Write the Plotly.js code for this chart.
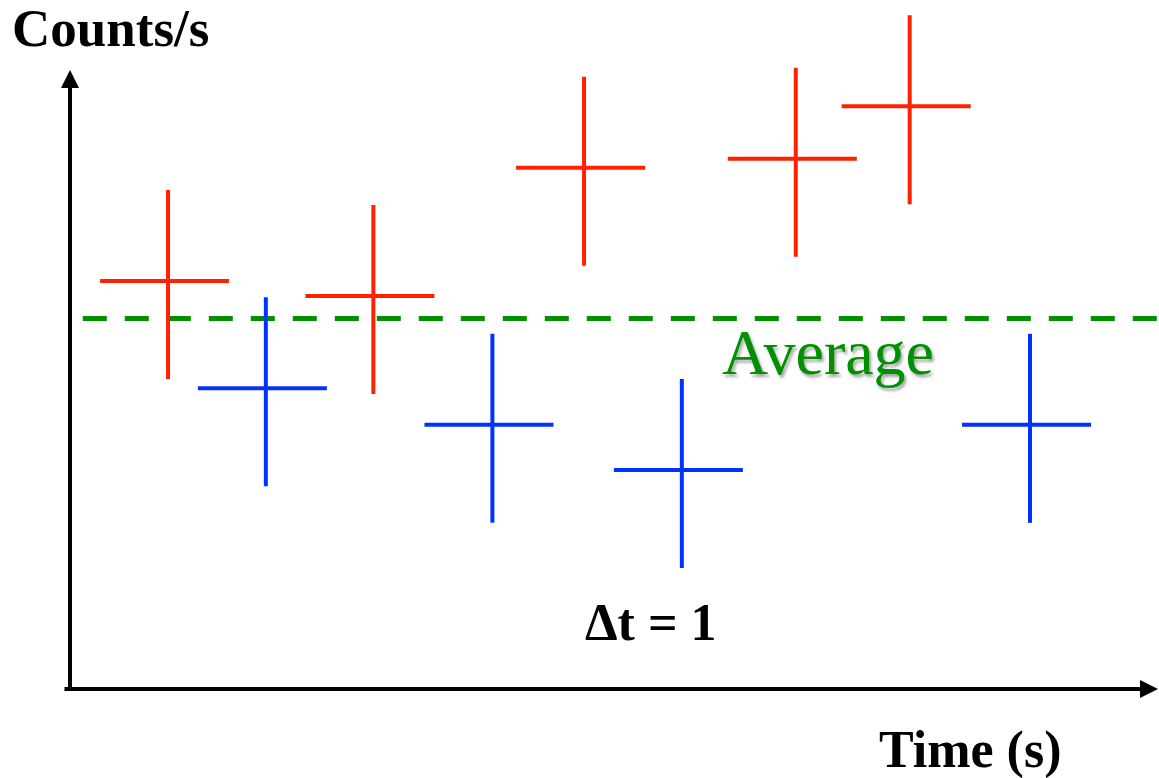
<!DOCTYPE html>
<html>
<head>
<meta charset="utf-8">
<script src="https://cdn.plot.ly/plotly-3.0.1.min.js"></script>
<style>html,body{margin:0;padding:0;background:#fff;}#chart{width:1159px;height:778px;}</style>
</head>
<body>
<div id="chart"></div>
<script>
// Data (time in s, rate in counts/s, arbitrary units)
var redTime = [0.766, 2.37, 4.016, 5.67, 6.56];
var redRate = [4.33, 4.17, 5.535, 5.63, 6.19];
var blueTime = [1.53, 3.3, 4.78, 7.5];
var blueRate = [3.19, 2.80, 2.32, 2.80];
var binErrLeft = 0.531, binErrRight = 0.477;   // Δt = 1
var rateErrUp = 0.968, rateErrDown = 1.043;
var averageRate = 3.93;
var averageSpan = [0.1, 8.51];

var serif = '"Liberation Serif", "Times New Roman", serif';

function crossTrace(xs, ys, color) {
  return {
    x: xs, y: ys, type: 'scatter', mode: 'markers',
    marker: {size: 1, color: 'rgba(0,0,0,0)'},
    error_x: {type: 'constant', symmetric: false, value: binErrRight, valueminus: binErrLeft, color: color, thickness: 4, width: 0},
    error_y: {type: 'constant', symmetric: false, value: rateErrUp, valueminus: rateErrDown, color: color, thickness: 4, width: 0},
    hoverinfo: 'skip', showlegend: false, cliponaxis: false
  };
}

var traces = [
  {
    x: averageSpan, y: [averageRate, averageRate], type: 'scatter', mode: 'lines',
    line: {color: '#009000', width: 5, dash: '24px,18px'},
    hoverinfo: 'skip', showlegend: false, cliponaxis: false
  },
  crossTrace(redTime, redRate, '#ff2200'),
  crossTrace(blueTime, blueRate, '#0033ff')
];

var layout = {
  width: 1159, height: 778,
  margin: {l: 60, r: 0, t: 0, b: 88},
  paper_bgcolor: '#ffffff', plot_bgcolor: '#ffffff',
  xaxis: {range: [-0.078125, 8.5078], showgrid: false, zeroline: false, showline: false, showticklabels: false, ticks: ''},
  yaxis: {range: [-0.0213, 7.319], showgrid: false, zeroline: false, showline: false, showticklabels: false, ticks: ''},
  annotations: [
    {x: 8.5, y: -0.01, ax: -0.055, ay: -0.01, xref: 'x', yref: 'y', axref: 'x', ayref: 'y',
     showarrow: true, arrowhead: 2, arrowsize: 0.9, arrowwidth: 4, arrowcolor: '#000', text: '', standoff: 0},
    {x: 0, y: 6.574, ax: 0, ay: -0.01, xref: 'x', yref: 'y', axref: 'x', ayref: 'y',
     showarrow: true, arrowhead: 2, arrowsize: 0.9, arrowwidth: 4, arrowcolor: '#000', text: '', standoff: 0},
    {xref: 'paper', yref: 'paper', x: 0.0455, y: 0.96, xanchor: 'center', yanchor: 'middle', showarrow: false,
     text: '<b>Counts/s</b>', font: {family: serif, size: 53, color: '#000'}},
    {xref: 'paper', yref: 'paper', x: 0.828, y: -0.087, xanchor: 'center', yanchor: 'middle', showarrow: false,
     text: '<b>Time (s)</b>', font: {family: serif, size: 52, color: '#000'}},
    {xref: 'x', yref: 'y', x: 5.92, y: 3.57, xanchor: 'center', yanchor: 'middle', showarrow: false,
     text: 'Average', font: {family: serif, size: 64, color: '#009000', shadow: '2px 3px 3px rgba(0,0,0,0.35)'}},
    {xref: 'x', yref: 'y', x: 4.54, y: 0.70, xanchor: 'center', yanchor: 'middle', showarrow: false,
     text: '<b>Δt = 1</b>', font: {family: serif, size: 52, color: '#000'}}
  ]
};

Plotly.newPlot('chart', traces, layout, {staticPlot: true, displayModeBar: false});
</script>
</body>
</html>
